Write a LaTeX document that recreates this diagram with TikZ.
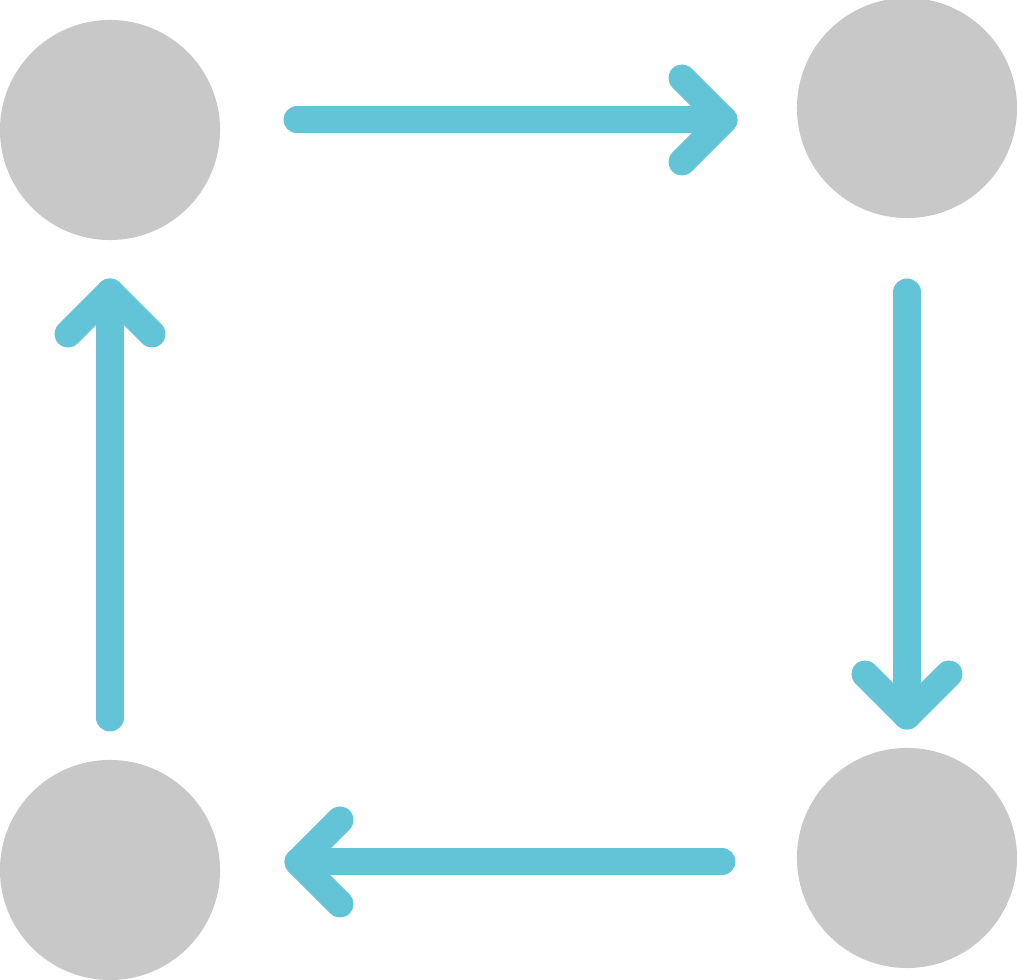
\documentclass[tikz,border=0pt]{standalone}
\usepackage{tikz}
\usetikzlibrary{calc, positioning}
\definecolor{dotgray}{RGB}{200,200,200}
\definecolor{flowblue}{RGB}{99,196,216}

\begin{document}
\begin{tikzpicture}[x=0.01cm, y=-0.01cm,
    dot/.style={circle, fill=dotgray, draw=none, inner sep=0pt, minimum size=2.2cm},
    flow/.style={draw=flowblue, line width=0.27cm, line cap=round, line join=round}]
            \useasboundingbox (0,0) rectangle (1017,980);
            % corner dots
            \node[dot] (nw) at (110,130){};
            \node[dot] (ne) at (907,108){};
            \node[dot] (sw) at (110,870){};
            \node[dot] (se) at (907,858){};
            % arrow ends
            \coordinate (top1) at (297,120);   \coordinate (top2) at (724,120);
            \coordinate (right1) at (907,292); \coordinate (right2) at (907,716);
            \coordinate (bot1) at (722,862);   \coordinate (bot2) at (298,862);
            \coordinate (left1) at (110,718);  \coordinate (left2) at (110,292);
            % shafts and chevrons
            \draw[flow] (top1) -- (top2);
            \draw[flow] ($(top2)+(-42,-42)$) -- (top2) -- ($(top2)+(-42,42)$);
            \draw[flow] (right1) -- (right2);
            \draw[flow] ($(right2)+(-42,-42)$) -- (right2) -- ($(right2)+(42,-42)$);
            \draw[flow] (bot1) -- (bot2);
            \draw[flow] ($(bot2)+(42,-42)$) -- (bot2) -- ($(bot2)+(42,42)$);
            \draw[flow] (left1) -- (left2);
            \draw[flow] ($(left2)+(-42,42)$) -- (left2) -- ($(left2)+(42,42)$);
\end{tikzpicture}
\end{document}
